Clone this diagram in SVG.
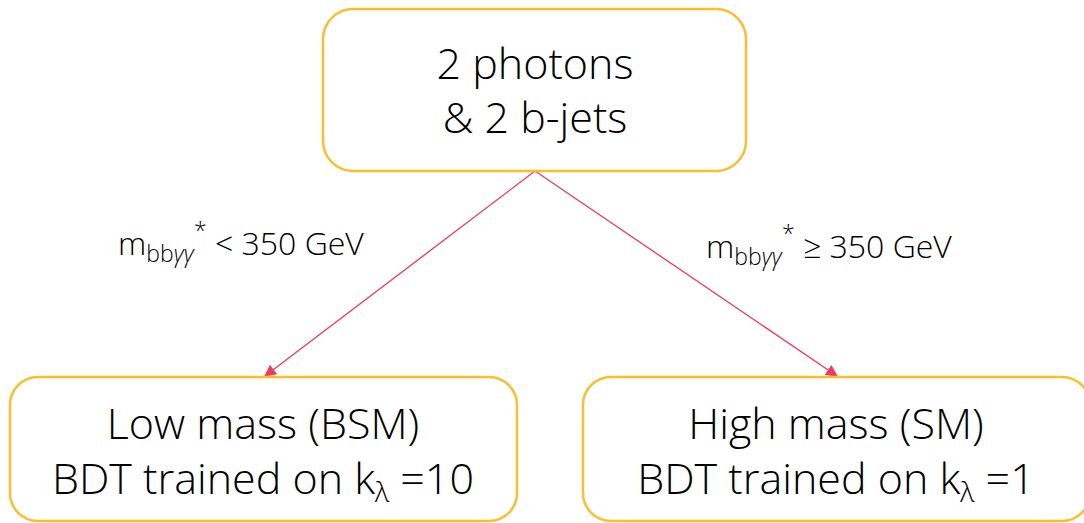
<svg xmlns="http://www.w3.org/2000/svg" width="1084" height="523" viewBox="0 0 1084 523">
  <style>
    .box { fill: #ffffff; stroke: #FBBF2E; stroke-width: 2.5; }
    .t { font-family: "Open Sans", "Liberation Sans", sans-serif; font-weight: 300; fill: #000000; }
    .big { font-size: 43px; text-anchor: middle; }
    .lbl { font-size: 32px; }
    .edge { stroke: #EE3A5C; stroke-width: 1.3; fill: none; }
  </style>
  <defs>
    <marker id="arrow" viewBox="0 0 10 10" refX="9" refY="5" markerWidth="12" markerHeight="12" markerUnits="userSpaceOnUse" orient="auto">
      <path d="M0,0 L10,5 L0,10 Z" fill="#EE3A5C"/>
    </marker>
  </defs>
  <rect width="1084" height="523" fill="#ffffff"/>

  <g id="connectors">
    <line class="edge" x1="535" y1="171" x2="265" y2="376" marker-end="url(#arrow)"/>
    <line class="edge" x1="535" y1="171" x2="837" y2="376" marker-end="url(#arrow)"/>
    <text class="t lbl" x="118" y="255">m<tspan font-size="23" dy="7">bb<tspan font-style="italic">γγ</tspan></tspan><tspan font-size="23" dy="-23">*</tspan><tspan dy="16"> &lt; 350 GeV</tspan></text>
    <text class="t lbl" x="706" y="258">m<tspan font-size="23" dy="7">bb<tspan font-style="italic">γγ</tspan></tspan><tspan font-size="23" dy="-23">*</tspan><tspan dy="16"> ≥ 350 GeV</tspan></text>
  </g>

  <g id="node-top">
    <rect class="box" x="323" y="9" width="423" height="162" rx="30" ry="30"/>
    <text class="t big" x="535" y="79">2 photons</text>
    <text class="t big" x="535" y="133">&amp; 2 b-jets</text>
  </g>

  <g id="node-low">
    <rect class="box" x="10" y="377" width="507" height="144" rx="28" ry="28"/>
    <text class="t big" x="263" y="439">Low mass (BSM)</text>
    <text class="t big" x="263" y="494">BDT trained on k<tspan font-size="28" dy="8">λ</tspan><tspan dy="-8"> =10</tspan></text>
  </g>

  <g id="node-high">
    <rect class="box" x="583" y="377" width="507" height="144" rx="28" ry="28"/>
    <text class="t big" x="836" y="439">High mass (SM)</text>
    <text class="t big" x="836" y="494">BDT trained on k<tspan font-size="28" dy="8">λ</tspan><tspan dy="-8"> =1</tspan></text>
  </g>
</svg>
